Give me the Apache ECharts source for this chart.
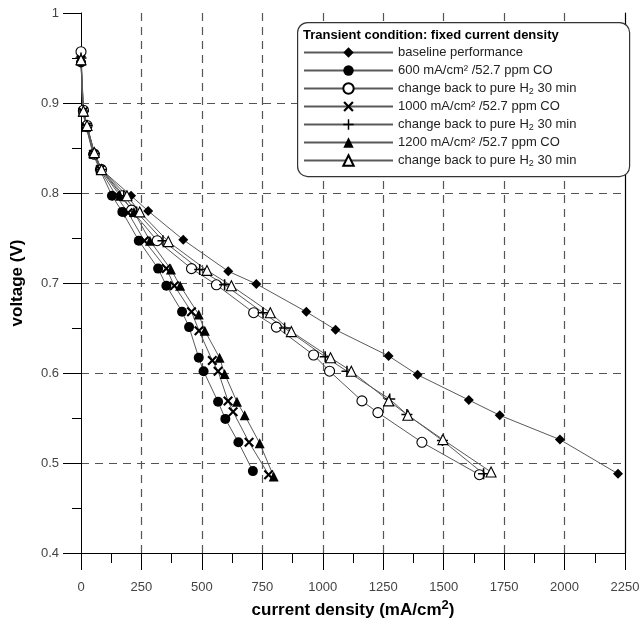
<!DOCTYPE html>
<html><head><meta charset="utf-8">
<script src="https://cdn.jsdelivr.net/npm/echarts@6/dist/echarts.min.js"></script>
<style>html,body{margin:0;padding:0;background:#fff}#c{width:640px;height:624px}</style>
</head><body><div id="c"></div>
<script>
// ---- data (current density mA/cm2, voltage V) ----
const baseline = [[0,0.946],[10,0.89],[25,0.874],[55,0.845],[85,0.826],[207,0.797],[278,0.78],[423,0.748],[609,0.713],[725,0.699],[932,0.668],[1053,0.648],[1272,0.619],[1392,0.598],[1604,0.570],[1732,0.553],[1981,0.526],[2221,0.488]];
const co600 = [[0,0.945],[8,0.89],[22,0.873],[50,0.843],[78,0.826],[128,0.797],[171,0.779],[239,0.747],[319,0.716],[353,0.697],[418,0.668],[447,0.651],[487,0.617],[507,0.602],[567,0.568],[597,0.549],[651,0.523],[711,0.491]];
const back600 = [[0,0.957],[10,0.892],[25,0.875],[55,0.843],[85,0.826],[169,0.797],[209,0.781],[315,0.747],[457,0.716],[560,0.698],[714,0.667],[808,0.651],[962,0.62],[1028,0.602],[1162,0.569],[1228,0.556],[1410,0.523],[1648,0.487]];
const co1000 = [[0,0.948],[8,0.89],[22,0.873],[52,0.843],[80,0.826],[145,0.797],[195,0.778],[262,0.747],[353,0.716],[386,0.697],[457,0.668],[488,0.647],[543,0.614],[567,0.602],[608,0.569],[629,0.557],[695,0.523],[776,0.487]];
const back1000 = [[0,0.95],[10,0.891],[25,0.875],[55,0.844],[85,0.826],[177,0.797],[230,0.779],[339,0.747],[491,0.715],[594,0.698],[753,0.667],[842,0.65],[1010,0.618],[1100,0.602],[1277,0.571],[1348,0.554],[1495,0.525],[1665,0.488]];
const co1200 = [[0,0.947],[8,0.89],[22,0.874],[52,0.844],[82,0.826],[161,0.797],[219,0.779],[285,0.747],[372,0.715],[410,0.697],[487,0.665],[512,0.647],[573,0.617],[594,0.599],[645,0.568],[677,0.553],[739,0.522],[797,0.485]];
const back1200 = [[0,0.948],[10,0.891],[25,0.875],[55,0.845],[85,0.826],[190,0.797],[243,0.779],[361,0.746],[521,0.714],[622,0.697],[783,0.667],[870,0.646],[1032,0.617],[1118,0.602],[1273,0.569],[1352,0.553],[1497,0.526],[1696,0.49]];

const seriesKeys = ['s1','s2','s3','s4','s5','s6','s7'];
const seriesLabels = ['baseline performance','600 mA/cm² /52.7 ppm CO','change back to pure H{sub|2} 30 min','1000 mA/cm² /52.7 ppm CO','change back to pure H{sub|2} 30 min','1200 mA/cm² /52.7 ppm CO','change back to pure H{sub|2} 30 min'];
const legendTitle = 'Transient condition: fixed current density';
const xTitle = 'current density (mA/cm{sup|2})';
const yTitle = 'voltage (V)';

const X_PATH = 'path://M1.5,0 L5,3.5 L8.5,0 L10,1.5 L6.5,5 L10,8.5 L8.5,10 L5,6.5 L1.5,10 L0,8.5 L3.5,5 L0,1.5 Z';
const PLUS_PATH = 'path://M4.3,0 H5.7 V4.3 H10 V5.7 H5.7 V10 H4.3 V5.7 H0 V4.3 H4.3 Z';

const datasets = [baseline, co600, back600, co1000, back1000, co1200, back1200];
const symbols = [
  {symbol:'diamond', size:10, fill:'#000', border:'#000', bw:0},
  {symbol:'circle', size:10, fill:'#000', border:'#000', bw:0},
  {symbol:'circle', size:10, fill:'#fff', border:'#000', bw:1.1},
  {symbol:X_PATH, size:10, fill:'#000', border:'#000', bw:0},
  {symbol:PLUS_PATH, size:11, fill:'#000', border:'#000', bw:0},
  {symbol:'triangle', size:10, fill:'#000', border:'#000', bw:0},
  {symbol:'triangle', size:10, fill:'#fff', border:'#000', bw:1.1}
];

const chart = echarts.init(document.getElementById('c'), null, {renderer:'canvas'});
const FONT = 'Liberation Sans, Arial, sans-serif';

const series = datasets.map((d,i)=>({
  name: seriesKeys[i],
  type: 'line',
  data: d,
  symbol: symbols[i].symbol,
  symbolSize: symbols[i].size,
  showAllSymbol: true,
  lineStyle: {color:'#5a5a5a', width:1},
  itemStyle: {color: symbols[i].fill, borderColor: symbols[i].border, borderWidth: symbols[i].bw, opacity:1},
  emphasis: {disabled:true},
  z: 2
}));

const labelMap = {};
seriesKeys.forEach((k,i)=>labelMap[k]=seriesLabels[i]);

chart.setOption({
  animation: false,
  backgroundColor: '#fff',
  grid: {left:81, right:15, top:13, bottom:71, containLabel:false, outerBoundsMode:'none'},
  xAxis: {
    type:'value', min:0, max:2250, interval:250,
    name: xTitle, nameLocation:'middle', nameGap:43,
    nameTextStyle: {fontFamily:FONT, fontSize:17, fontWeight:'bold', color:'#000',
      rich:{sup:{fontFamily:FONT, fontSize:13, fontWeight:'bold', color:'#000', verticalAlign:'top', padding:[0,0,9,0]}}},
    axisLine: {show:true, onZero:false, lineStyle:{color:'#000', width:1}},
    axisTick: {show:true, length:17, lineStyle:{color:'#000', width:1}},
    minorTick: {show:true, splitNumber:2, length:10, lineStyle:{color:'#000', width:1}},
    axisLabel: {fontFamily:FONT, fontSize:13, color:'#444', margin:28, formatter: v => String(v)},
    splitLine: {show:true, showMinLine:false, showMaxLine:false, lineStyle:{color:'#555', type:[8,6], width:1.2}}
  },
  yAxis: [{
    type:'value', min:0.4, max:1, interval:0.1,
    name: yTitle, nameLocation:'middle', nameGap:55, nameRotate:90,
    nameTextStyle: {fontFamily:FONT, fontSize:17, fontWeight:'bold', color:'#000'},
    axisLine: {show:true, onZero:false, lineStyle:{color:'#000', width:1}},
    axisTick: {show:true, length:18, lineStyle:{color:'#000', width:1}},
    minorTick: {show:true, splitNumber:2, length:9, lineStyle:{color:'#000', width:1}},
    axisLabel: {fontFamily:FONT, fontSize:13, color:'#444', margin:22,
      formatter: v => (Math.abs(v-1)<1e-9 ? '1' : v.toFixed(1))},
    splitLine: {show:true, showMinLine:false, showMaxLine:false, lineStyle:{color:'#555', type:[8,6], width:1.2}}
  },{
    type:'value', min:0.4, max:1, position:'right',
    axisLine: {show:true, onZero:false, lineStyle:{color:'#000', width:1.2}},
    axisTick: {show:false}, axisLabel:{show:false}, splitLine:{show:false}
  }],
  legend: {
    data: seriesKeys,
    orient: 'vertical',
    left: 303, top: 45,
    itemWidth: 89, itemHeight: 13, itemGap: 3,
    padding: 0,
    z: 20,
    selectedMode: false,
    textStyle: {fontFamily:FONT, fontSize:13, color:'#222', lineHeight:15,
      rich:{sub:{fontFamily:FONT, fontSize:9, color:'#222', verticalAlign:'bottom', padding:[5,0,0,0]}}},
    formatter: name => labelMap[name]
  },
  graphic: [
    {type:'rect', left:297, top:22, shape:{width:332, height:154, r:10},
     style:{fill:'#fff', stroke:'#333', lineWidth:1.2}, z:10},
    {type:'text', left:303, top:29, style:{text:legendTitle, fontFamily:FONT, fontSize:13, fontWeight:'bold', fill:'#000'}, z:21}
  ],
  series: series
});
</script></body></html>
